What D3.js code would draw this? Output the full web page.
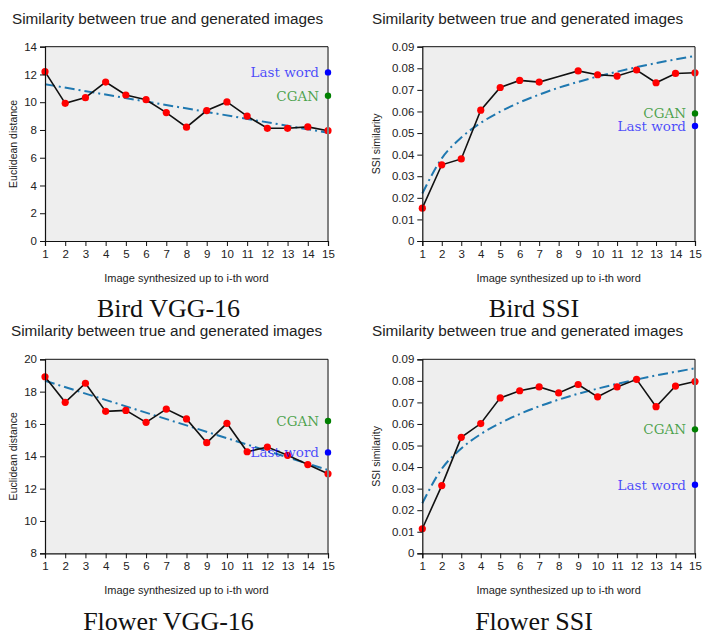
<!DOCTYPE html>
<html>
<head>
<meta charset="utf-8">
<script src="https://cdn.jsdelivr.net/npm/d3@7"></script>
<style>
  body { margin: 0; background: #fff; }
  svg text { font-family: "Liberation Sans", Arial, sans-serif; }
</style>
</head>
<body>
<svg id="fig" width="715" height="634"></svg>
<script>
// x positions (word index)
const words = [1, 2, 3, 4, 5, 6, 7, 8, 9, 10, 11, 12, 13, 14, 15];

// Bird VGG-16
const birdVgg = [12.2, 9.92, 10.33, 11.45, 10.52, 10.18, 9.25, 8.2, 9.4, 10.02, 9.0, 8.12, 8.12, 8.22, 7.95];
const birdVggTrend = [[1, 11.3], [15, 7.8]];
const birdVggRefs = [{ name: 'Last word', value: 12.15 }, { name: 'CGAN', value: 10.47 }];
const vggBirdTicks = [0, 2, 4, 6, 8, 10, 12, 14];

// Bird SSI
const birdSsi = [0.0152, 0.0353, 0.038, 0.0606, 0.0711, 0.0744, 0.0736, 0.0762, 0.0788, 0.077, 0.0764, 0.0792, 0.0733, 0.0776, 0.0779];
const birdSsiHidden = [8];
const birdSsiTrend = [[1, 0.022], [2, 0.0383], [3, 0.0479], [4, 0.0547], [5, 0.0599], [6, 0.0642], [7, 0.0678],
  [8, 0.071], [9, 0.0737], [10, 0.0762], [11, 0.0784], [12, 0.0805], [13, 0.0824], [14, 0.0841], [15, 0.0857]];
const birdSsiRefs = [{ name: 'CGAN', value: 0.0591 }, { name: 'Last word', value: 0.0533 }];

// Flower VGG-16
const flowerVgg = [18.92, 17.34, 18.52, 16.78, 16.84, 16.1, 16.92, 16.31, 14.84, 16.04, 14.28, 14.57, 14.06, 13.49, 12.92];
const flowerVggTrend = [[1, 18.67], [15, 13.15]];
const flowerVggRefs = [{ name: 'CGAN', value: 16.18 }, { name: 'Last word', value: 14.24 }];
const vggFlowerTicks = [8, 10, 12, 14, 16, 18, 20];

// Flower SSI
const flowerSsi = [0.0114, 0.0314, 0.0538, 0.0602, 0.0721, 0.0754, 0.0772, 0.0744, 0.0783, 0.0726, 0.0772, 0.0807, 0.068, 0.0776, 0.0797];
const flowerSsiTrend = [[1, 0.0232], [2, 0.0392], [3, 0.0486], [4, 0.0553], [5, 0.0604], [6, 0.0646], [7, 0.0682],
  [8, 0.0713], [9, 0.074], [10, 0.0764], [11, 0.0786], [12, 0.0806], [13, 0.0825], [14, 0.0842], [15, 0.0858]];
const flowerSsiRefs = [{ name: 'CGAN', value: 0.0575 }, { name: 'Last word', value: 0.0318 }];

const ssiTicks = [0, 0.01, 0.02, 0.03, 0.04, 0.05, 0.06, 0.07, 0.08, 0.09];

const titleText = 'Similarity between true and generated images';
const xLabelText = 'Image synthesized up to i-th word';
const refColors = { 'Last word': '#0000ff', 'CGAN': '#008000' };

const svg = d3.select('#fig');

const panels = [
  { left: 45, right: 328, top: 46.7, bottom: 241, domain: [0, 14], ticks: vggBirdTicks, fmt: d3.format('d'),
    values: birdVgg, trend: birdVggTrend, refs: birdVggRefs, hidden: [], ylabel: 'Euclidean distance',
    ylabelX: 13, titleX: 12, caption: 'Bird VGG-16', captionX: 168.5, captionY: 316.5 },
  { left: 422.3, right: 695, top: 46.7, bottom: 241, domain: [0, 0.09], ticks: ssiTicks, fmt: d => d === 0 ? '0' : d3.format('.2f')(d),
    values: birdSsi, trend: birdSsiTrend, refs: birdSsiRefs, hidden: birdSsiHidden, ylabel: 'SSI similarity',
    ylabelX: 376, titleX: 372, caption: 'Bird SSI', captionX: 534, captionY: 316.5 },
  { left: 45, right: 328, top: 359.3, bottom: 553.3, domain: [8, 20], ticks: vggFlowerTicks, fmt: d3.format('d'),
    values: flowerVgg, trend: flowerVggTrend, refs: flowerVggRefs, hidden: [], ylabel: 'Euclidean distance',
    ylabelX: 13, titleX: 11, caption: 'Flower VGG-16', captionX: 168.5, captionY: 629.5 },
  { left: 422.3, right: 695, top: 359.3, bottom: 553.3, domain: [0, 0.09], ticks: ssiTicks, fmt: d => d === 0 ? '0' : d3.format('.2f')(d),
    values: flowerSsi, trend: flowerSsiTrend, refs: flowerSsiRefs, hidden: [], ylabel: 'SSI similarity',
    ylabelX: 376, titleX: 372, caption: 'Flower SSI', captionX: 534, captionY: 629.5 }
];

panels.forEach(drawPanel);

function drawPanel(p) {
  const x = d3.scaleLinear().domain([1, 15]).range([p.left, p.right]);
  const y = d3.scaleLinear().domain(p.domain).range([p.bottom, p.top]);
  const g = svg.append('g');

  // title
  g.append('text')
    .attr('x', p.titleX).attr('y', p.top - 23)
    .style('font-size', '15.3px').style('fill', '#222')
    .text(titleText);

  // background
  g.append('rect')
    .attr('x', p.left).attr('y', p.top)
    .attr('width', p.right - p.left).attr('height', p.bottom - p.top)
    .style('fill', '#eeeeee');

  // trend (dash-dot)
  const line = d3.line().x(d => x(d[0])).y(d => y(d[1]));
  g.append('path')
    .datum(p.trend)
    .attr('d', line.curve(d3.curveMonotoneX))
    .style('fill', 'none').style('stroke', '#1f78b0').style('stroke-width', 2)
    .style('stroke-dasharray', '10,4,2,4');

  // series
  const pts = p.values.map((v, i) => [words[i], v]);
  g.append('path')
    .datum(pts)
    .attr('d', d3.line().x(d => x(d[0])).y(d => y(d[1])))
    .style('fill', 'none').style('stroke', '#111').style('stroke-width', 1.6);

  g.selectAll('.mk')
    .data(pts.filter(d => !p.hidden.includes(d[0])))
    .enter().append('circle')
    .attr('cx', d => x(d[0])).attr('cy', d => y(d[1])).attr('r', 3.6)
    .style('fill', '#ff0000');

  // right frame (grey) and top frame
  g.append('line')
    .attr('x1', p.right).attr('x2', p.right).attr('y1', p.top).attr('y2', p.bottom)
    .style('stroke', '#808080').style('stroke-width', 2);
  g.append('line')
    .attr('x1', p.left).attr('x2', p.right).attr('y1', p.top).attr('y2', p.top)
    .style('stroke', '#111').style('stroke-width', 1);

  // reference dots + labels
  p.refs.forEach(r => {
    g.append('circle')
      .attr('cx', x(15)).attr('cy', y(r.value)).attr('r', 3.2)
      .style('fill', refColors[r.name]);
    g.append('text')
      .attr('x', x(15) - 9).attr('y', y(r.value)).attr('dy', '0.36em')
      .attr('text-anchor', 'end')
      .style('font-family', '"DejaVu Serif", serif').style('font-size', '13.5px')
      .style('fill', refColors[r.name]).style('fill-opacity', 0.7)
      .text(r.name);
  });

  // axes
  const yAxis = g.append('g')
    .attr('transform', `translate(${p.left},0)`)
    .call(d3.axisLeft(y).tickValues(p.ticks).tickFormat(p.fmt).tickSize(5).tickPadding(3));
  const xAxis = g.append('g')
    .attr('transform', `translate(0,${p.bottom})`)
    .call(d3.axisBottom(x).tickValues(words).tickFormat(d3.format('d')).tickSize(5).tickPadding(4));
  [yAxis, xAxis].forEach(a => {
    a.select('.domain').style('stroke', '#111').style('stroke-width', 1.2);
    a.selectAll('.tick line').style('stroke', '#111');
    a.selectAll('.tick text').style('font-size', '11.5px').style('fill', '#222')
      .style('font-family', '"Liberation Sans", Arial, sans-serif');
  });

  // axis labels
  g.append('text')
    .attr('x', (p.left + p.right) / 2).attr('y', p.bottom + 41)
    .attr('text-anchor', 'middle')
    .style('font-size', '11px').style('fill', '#222')
    .text(xLabelText);
  g.append('text')
    .attr('transform', `translate(${p.ylabelX},${(p.top + p.bottom) / 2}) rotate(-90)`)
    .attr('text-anchor', 'middle').attr('dy', '0.35em')
    .style('font-size', '10.5px').style('fill', '#222')
    .text(p.ylabel);

  // caption
  g.append('text')
    .attr('x', p.captionX).attr('y', p.captionY)
    .attr('text-anchor', 'middle')
    .style('font-family', '"Liberation Serif", "Times New Roman", serif').style('font-size', '26px')
    .style('fill', '#111')
    .text(p.caption);
}
</script>
</body>
</html>
